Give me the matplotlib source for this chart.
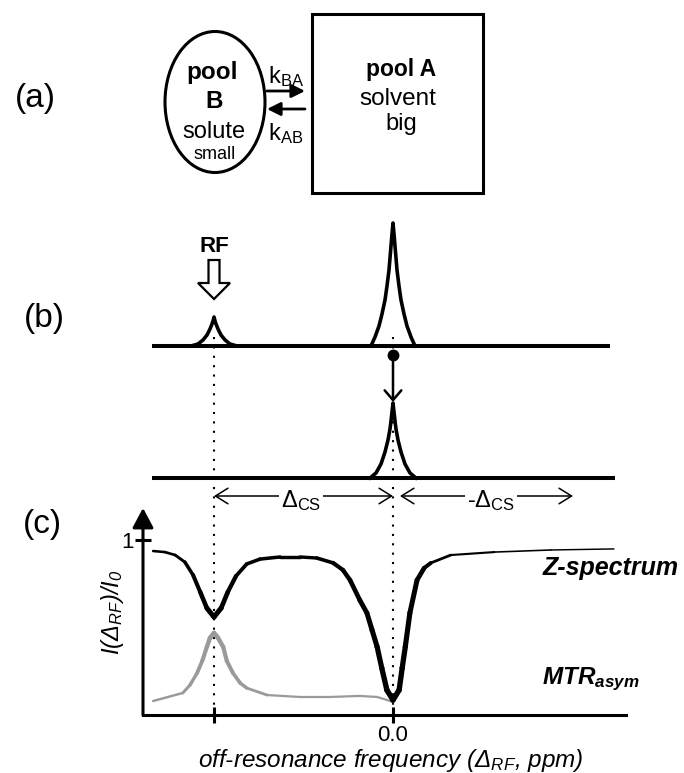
import numpy as np
import matplotlib.pyplot as plt
from matplotlib.patches import Ellipse, Rectangle, FancyArrow
from matplotlib.collections import LineCollection

plt.rcParams['font.family'] = ['Liberation Sans', 'DejaVu Sans']
plt.rcParams['mathtext.fontset'] = 'custom'
plt.rcParams['mathtext.rm'] = 'Liberation Sans'
plt.rcParams['mathtext.it'] = 'Liberation Sans:italic'
plt.rcParams['mathtext.bf'] = 'Liberation Sans:bold'

# ---- data ----
# (c) Z-spectrum: offset (ppm) vs I(dRF)/I0
z_ppm = [4.69, 4.46, 4.26, 4.07, 3.91, 3.77, 3.64, 3.50, 3.36, 3.23, 3.07, 2.86,
         2.60, 2.21, 1.82, 1.49, 1.17, 0.98, 0.84, 0.65, 0.51, 0.41, 0.31, 0.22,
         0.12, 0.00, -0.12, -0.18, -0.24, -0.33, -0.47, -0.61, -0.74, -1.13,
         -1.98, -3.09, -4.32]
z_sig = [0.937, 0.931, 0.914, 0.874, 0.800, 0.703, 0.611, 0.560, 0.611, 0.703,
         0.794, 0.863, 0.891, 0.903, 0.903, 0.897, 0.869, 0.829, 0.771, 0.657,
         0.583, 0.486, 0.389, 0.269, 0.143, 0.086, 0.143, 0.269, 0.389, 0.583,
         0.771, 0.840, 0.869, 0.914, 0.931, 0.943, 0.949]
# (c) MTRasym
mtr_ppm = [4.69, 4.11, 3.97, 3.83, 3.73, 3.64, 3.58, 3.50, 3.42, 3.32, 3.25,
           3.13, 2.99, 2.86, 2.46, 1.82, 1.23, 0.65, 0.31, 0.12, 0.00]
mtr_sig = [0.080, 0.126, 0.171, 0.240, 0.309, 0.389, 0.440, 0.469, 0.440, 0.389,
           0.309, 0.240, 0.183, 0.154, 0.114, 0.103, 0.103, 0.109, 0.103, 0.086,
           0.074]

# (b) spectra: peak centres (ppm) and half profiles (offset px, height px)
solute_ppm = 3.5
water_ppm = 0.0
big_dx = [0, 1, 2, 3, 4, 6, 8, 11, 14, 18, 22]
big_h = [123, 112, 100, 88, 76, 60, 46, 32, 20, 9, 0]
small_dx = [0, 1, 2, 4, 7, 11, 16, 23]
small_h = [29, 25, 22, 17, 11, 6, 2, 0]
sat_dx = [0, 1, 2, 3, 5, 8, 12, 17, 23]
sat_h = [75, 66, 57, 49, 38, 26, 14, 5, 0]

# ---- layout (pixels) ----
W, H = 684, 773
AX_L, AX_R, AX_B, AX_T = 143, 626, 715, 508
ZERO_PX, PX_PER_PPM, PX_PER_UNIT = 393, 51.14, 175.0


def ppm_to_px(v):
    return ZERO_PX - PX_PER_PPM * v


def peak(ax, center, base, dx, h):
    dx = np.array(dx, float)
    h = np.array(h, float)
    xs = np.concatenate([center - dx[::-1], center + dx[1:]])
    ys = np.concatenate([base - h[::-1], base - h[1:]])
    ax.plot(xs, ys, color='k', lw=2.6, solid_joinstyle='round')


def varline(ax, x, y, wx, ww, color):
    # line whose stroke width changes along x (as in the drawn original)
    x = np.asarray(x, float)
    y = np.asarray(y, float)
    pts = np.column_stack([x, y]).reshape(-1, 1, 2)
    segs = np.concatenate([pts[:-1], pts[1:]], axis=1)
    xm = 0.5 * (x[:-1] + x[1:])
    lw = np.interp(xm, wx[::-1], ww[::-1])
    lc = LineCollection(segs, linewidths=lw, colors=color, capstyle='round',
                        joinstyle='round')
    ax.add_collection(lc)


fig = plt.figure(figsize=(W / 100, H / 100), dpi=100)
ax0 = fig.add_axes([0, 0, 1, 1])
ax0.set_xlim(0, W)
ax0.set_ylim(H, 0)
ax0.axis('off')

# ---------- (a) ----------
ax0.text(35, 98, '(a)', fontsize=24, ha='center', va='center')
ax0.add_patch(Ellipse((215, 102), 100, 141, fill=False, lw=2.2))
ax0.add_patch(Rectangle((312, 14), 171, 179, fill=False, lw=2.2))
ax0.text(212, 79, 'pool', fontsize=17.5, weight='bold', ha='center', va='baseline')
ax0.text(214, 108, 'B', fontsize=17.5, weight='bold', ha='center', va='baseline')
ax0.text(214, 138, 'solute', fontsize=17, ha='center', va='baseline')
ax0.text(215, 159, 'small', fontsize=13, ha='center', va='baseline')
ax0.text(401, 76, 'pool A', fontsize=16.5, weight='bold', ha='center', va='baseline')
ax0.text(398, 105, 'solvent', fontsize=17.5, ha='center', va='baseline')
ax0.text(401, 130, 'big', fontsize=17, ha='center', va='baseline')
harrow = dict(arrowstyle='-|>,head_length=0.5,head_width=0.25', lw=2,
              mutation_scale=16, shrinkA=0, shrinkB=0, color='k')
ax0.annotate('', xy=(305, 91), xytext=(267, 91), arrowprops=harrow)
ax0.annotate('', xy=(267, 109), xytext=(305, 109), arrowprops=harrow)
ax0.text(286, 83, r'$\mathdefault{k_{BA}}$', fontsize=17, ha='center', va='baseline')
ax0.text(286, 140, r'$\mathdefault{k_{AB}}$', fontsize=17, ha='center', va='baseline')

# ---------- (b) ----------
ax0.text(44, 318, '(b)', fontsize=24, ha='center', va='center')
xs_sol = ppm_to_px(solute_ppm)
xs_wat = ppm_to_px(water_ppm)

# dotted guides
for xp in (xs_sol, xs_wat):
    ax0.plot([xp, xp], [337, AX_B], color='k', lw=1.5, ls=(0, (1, 3.5)), zorder=1)

ax0.plot([152, 610], [346, 346], color='k', lw=2.9, solid_capstyle='butt')
ax0.plot([152, 615], [478, 478], color='k', lw=2.9, solid_capstyle='butt')
peak(ax0, xs_sol, 346, small_dx, small_h)
peak(ax0, xs_wat, 346, big_dx, big_h)
peak(ax0, xs_wat, 478, sat_dx, sat_h)

ax0.text(xs_sol, 247, 'RF', fontsize=16, weight='bold', ha='center', va='center')
ax0.add_patch(FancyArrow(xs_sol, 260, 0, 39, width=11, head_width=32, head_length=16,
                         length_includes_head=True, fc='white', ec='k', lw=1.6))

ax0.plot(xs_wat, 355, 'o', ms=7.5, color='k')
ax0.annotate('', xy=(xs_wat, 402), xytext=(xs_wat, 355),
             arrowprops=dict(arrowstyle='->,head_length=0.35,head_width=0.3', lw=1.8,
                             mutation_scale=20, shrinkA=0, shrinkB=0, color='k'))

darrow = dict(arrowstyle='<->,head_length=0.45,head_width=0.28', lw=1.1,
              mutation_scale=20, shrinkA=0, shrinkB=0, color='k')
ax0.annotate('', xy=(xs_sol, 496), xytext=(xs_wat, 496), arrowprops=darrow)
ax0.annotate('', xy=(xs_wat + 7, 496), xytext=(573, 496), arrowprops=darrow)
wbox = dict(boxstyle='square,pad=0.1', fc='white', ec='none')
ax0.text(301, 501, r'$\mathdefault{\Delta_{CS}}$', fontsize=17, ha='center',
         va='center', bbox=wbox)
ax0.text(491, 501, r'-$\mathdefault{\Delta_{CS}}$', fontsize=17, ha='center',
         va='center', bbox=wbox)

# ---------- (c) ----------
ax0.text(42, 524, '(c)', fontsize=24, ha='center', va='center')
ax0.text(113, 612, r'$\mathdefault{I(\Delta_{RF})/I_0}$', rotation=90, style='italic',
         fontsize=17, ha='center', va='center')
ax0.text(391, 767, r'off-resonance frequency ($\mathdefault{\Delta_{RF}}$, ppm)',
         style='italic', fontsize=17.5, ha='center', va='baseline')
ax0.text(611, 575, 'Z-spectrum', fontsize=18, weight='bold', style='italic',
         ha='center', va='baseline')
ax0.text(542, 684, r'$\mathdefault{MTR_{asym}}$', fontsize=17.5, weight='bold',
         style='italic', ha='left', va='baseline')

ax = fig.add_axes([AX_L / W, (H - AX_B) / H, (AX_R - AX_L) / W, (AX_B - AX_T) / H])
ax.patch.set_visible(False)
ax.set_xlim((ZERO_PX - AX_L) / PX_PER_PPM, -(AX_R - ZERO_PX) / PX_PER_PPM)
ax.set_ylim(0, (AX_B - AX_T) / PX_PER_UNIT)

# stroke width along the curves (ppm -> points), descending ppm
varline(ax, mtr_ppm, mtr_sig,
        np.array([4.7, 4.1, 3.5, 2.9, 2.4, 0.0]),
        np.array([1.5, 2.0, 3.4, 2.4, 1.6, 1.6]), '#9a9a9a')
varline(ax, z_ppm, z_sig,
        np.array([4.7, 4.2, 3.5, 2.9, 1.5, 0.9, 0.0, -0.5, -0.9, -2.0, -4.3]),
        np.array([1.8, 2.0, 3.8, 2.6, 2.4, 3.2, 4.0, 3.5, 2.0, 1.2, 1.0]), 'k')

for s in ('top', 'right', 'left'):
    ax.spines[s].set_visible(False)
ax.spines['bottom'].set_linewidth(2.2)
ax.annotate('', xy=(0, 1), xycoords='axes fraction', xytext=(0, 0),
            arrowprops=dict(arrowstyle='-|>,head_length=0.6,head_width=0.32', lw=2.2,
                            mutation_scale=20, shrinkA=0, shrinkB=0, color='k'))
ax.set_yticks([1])
ax.set_yticklabels(['1'])
ax.set_xticks([solute_ppm, water_ppm])
ax.set_xticklabels(['', '0.0'])
ax.tick_params(direction='inout', length=12, width=2.2, labelsize=16, pad=1)

fig.savefig('out.png', dpi=100)
